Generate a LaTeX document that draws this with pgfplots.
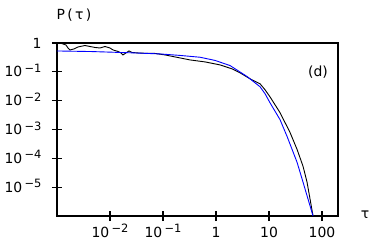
\documentclass[border=0pt]{standalone}
\usepackage{pgfplots}
\pgfplotsset{compat=1.18}
\usepackage{fontspec}
\setmainfont{DejaVu Sans}
\newcommand{\tsup}[1]{\raisebox{4.5bp}{\fontsize{11.5}{13}\selectfont#1}}
\begin{document}
\begin{tikzpicture}
\begin{axis}[
  scale only axis, width=281bp, height=173bp,
  xmode=log, ymode=log,
  xmin=1e-3, xmax=200, ymin=1e-6, ymax=1,
  axis line style={line width=1.1bp},
  tick align=center, major tick length=10bp,
  every tick/.style={line width=1.1bp, black},
  xtick pos=left, ytick pos=left,
  xminorticks=false, yminorticks=false,
  xtick={1e-2,1e-1,1,10,100},
  xticklabels={10\,\tsup{−2},10\,\tsup{−1},1,10,100},
  ytick={1e-5,1e-4,1e-3,1e-2,1e-1,1},
  yticklabels={10\,\tsup{−5},10\,\tsup{−4},10\,\tsup{−3},10\,\tsup{−2},10\,\tsup{−1},1},
  ticklabel style={font=\fontsize{14}{16}\selectfont},
  xticklabel style={anchor=base, yshift=-16bp},
  yticklabel style={anchor=base east, yshift=-5bp, xshift=-7bp},
  clip mode=individual,
]
\addplot[black, line width=0.9bp] coordinates {
(1.0e-3,1.0) (1.14e-3,1.0) (1.30e-3,0.924) (1.48e-3,0.853) (1.61e-3,0.672)
(1.76e-3,0.574) (2.09e-3,0.621) (2.49e-3,0.728) (3.37e-3,0.820) (4.19e-3,0.757)
(5.21e-3,0.700) (6.48e-3,0.672) (8.05e-3,0.757) (0.0100,0.672) (0.0114,0.574)
(0.0142,0.509) (0.0161,0.452) (0.0176,0.386) (0.0200,0.452) (0.0228,0.530)
(0.0260,0.470) (0.0338,0.452) (0.0457,0.441) (0.0707,0.435) (0.109,0.386)
(0.168,0.329) (0.323,0.259) (0.620,0.221) (1.19,0.174) (2.00,0.127)
(2.84,0.0924) (4.38,0.0574) (6.76,0.0386) (8.41,0.0239) (10.4,0.0137) (16.1,3.86e-3)
(24.9,7.88e-4) (33.8,2.04e-4) (43.8,5.30e-5) (52.1,1.49e-5) (59.4,3.86e-6)
(67.6,1.0e-6)
};
\addplot[blue, line width=0.9bp] coordinates {
(1.0e-3,0.530) (4.6e-3,0.505) (0.027,0.455) (0.0878,0.418) (0.209,0.371)
(0.499,0.321) (0.957,0.249) (1.84,0.165) (3.85,0.0689) (6.76,0.0304)
(8.41,0.0174) (10.4,8.53e-3) (16.1,2.21e-3) (21.9,5.74e-4) (33.8,7.28e-5) (43.8,1.49e-5)
(54.4,3.86e-6) (67.6,1.0e-6)
};
\node[font=\fontsize{14}{16}\selectfont] at (rel axis cs:0.0605,1.162) {P\,(\,τ\,)};
\node[font=\fontsize{14}{16}\selectfont] at (rel axis cs:1.096,0.006) {τ};
\node[font=\fontsize{14}{16}\selectfont] at (axis cs:84,0.1) {(d)};
\path (rel axis cs:-0.2028,-0.2023) rectangle (rel axis cs:1.1281,1.2486);
\end{axis}
\end{tikzpicture}
\end{document}
